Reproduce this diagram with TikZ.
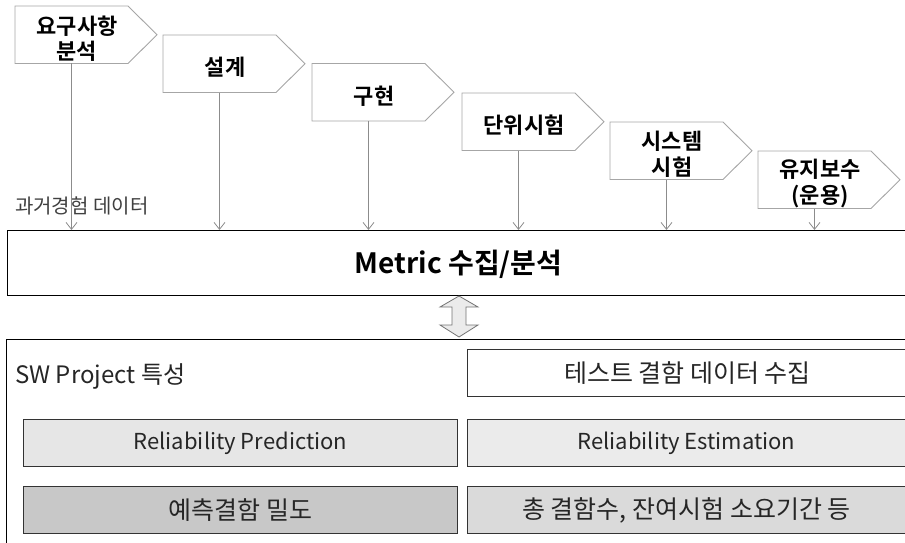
\documentclass[tikz,border=0pt]{standalone}
\usepackage{fontspec}
\setmainfont{Noto Sans CJK KR}[BoldFont={Noto Sans CJK KR Bold}]
\usetikzlibrary{arrows.meta}
\definecolor{phaseline}{HTML}{A6A6A6}
\definecolor{feedline}{HTML}{8C8C8C}
\definecolor{boxgrayA}{HTML}{E6E6E6}
\definecolor{boxgrayB}{HTML}{C8C8C8}
\definecolor{boxgrayC}{HTML}{DADADA}
\tikzset{
  phase/.style={draw=phaseline, line width=0.9pt, fill=white},
  phasetext/.style={font=\fontsize{22}{25.5}\selectfont\bfseries, align=center, inner sep=0pt},
  feed/.style={draw=feedline, line width=0.8pt, -{Straight Barb[length=7pt,width=11pt]}},
  frame/.style={draw=black, line width=1pt},
  bar/.style={draw=black!80, line width=0.9pt, minimum height=47pt, anchor=north west,
    font=\fontsize{22}{24}\selectfont, text=black!85},
  krbar/.style={bar, font=\fontsize{25}{27}\selectfont},
}
% pentagon: #1 name, #2 left x, #3 top y, #4 label
\newcommand{\phasebox}[4]{%
  \draw[phase] (#2,#3) -- ++(113,0) -- ++(29,28.75) -- ++(-29,28.75) -- ++(-113,0) -- cycle;
  \node[phasetext] (#1) at ({#2+62},{#3+32.5}) {#4};
  \coordinate (#1s) at ({#2+56.5},{#3+57.5});
}
\begin{document}
\begin{tikzpicture}[x=1pt,y=-1pt]
\useasboundingbox (0,0) rectangle (905,543);

% central metric collection bar
\node[frame, minimum width=903pt, minimum height=65pt, anchor=north west,
  inner sep=0pt] (main) at (7,230) {};
\node[inner sep=0pt, font=\fontsize{28}{30}\selectfont\bfseries] (maintext) at (458.5,264) {Metric 수집/분석};

% development phases
\phasebox{p1}{15}{6}{요구사항\\분석}
\phasebox{p2}{163}{35}{설계}
\phasebox{p3}{312}{63.5}{구현}
\phasebox{p4}{462}{93}{단위시험}
\phasebox{p5}{610}{122}{시스템\\시험}
\phasebox{p6}{758}{151}{유지보수\\(운용)}

\node[anchor=west, inner sep=0pt, text=black!75, font=\fontsize{20}{22}\selectfont] (past) at (15,206) {과거경험 데이터};

\foreach \p in {p1,p2,p3,p4,p5,p6}
  \draw[feed] (\p s) -- (\p s |- main.north);

% lower reliability panel
\node[frame, minimum width=904pt, minimum height=210pt, anchor=north west, inner sep=0pt] (panel) at (6,339) {};
\node[anchor=west, inner sep=0pt, font=\fontsize{24}{26}\selectfont, text=black!85] (sw) at (15,376) {SW Project 특성};
\node[krbar, fill=white, minimum width=440pt] (test) at (467,349) {테스트 결함 데이터 수집};
\node[bar, fill=boxgrayA, minimum width=434pt] (pred) at (23,419) {Reliability Prediction};
\node[bar, fill=boxgrayA!80!white, minimum width=438pt] (est) at (467,419) {Reliability Estimation};
\node[krbar, fill=boxgrayB, minimum width=434pt] (dens) at (23,486) {예측결함 밀도};
\node[krbar, fill=boxgrayC, minimum width=438pt] (total) at (467,486) {총 결함수, 잔여시험 소요기간 등};

% two-way exchange arrow
\coordinate (up) at (459,296);
\coordinate (dn) at (459,337);
\draw[draw=black!55, fill=black!8, line width=0.8pt, line join=miter]
  (up) -- ++(19,11) -- ++(-12,0) -- ++(0,18) -- ++(12,0) -- (dn)
  -- ++(-19,-12) -- ++(12,0) -- ++(0,-18) -- ++(-12,0) -- cycle;
\end{tikzpicture}
\end{document}
